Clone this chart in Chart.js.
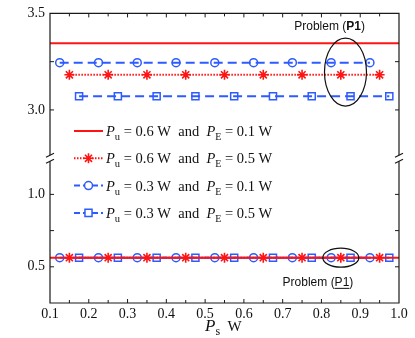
<!DOCTYPE html>
<html>
<head>
<meta charset="utf-8">
<script src="https://cdn.jsdelivr.net/npm/chart.js@4.4.1/dist/chart.umd.min.js"></script>
<style>
  html, body { margin: 0; padding: 0; background: #fff; }
  #wrap { width: 415px; height: 338px; }
</style>
</head>
<body>
<div id="wrap"><canvas id="c" width="415" height="338"></canvas></div>
<script>
// marker positions on Ps axis
const xLine   = [0.1, 1.0];
const xCircle = [0.125, 0.225, 0.325, 0.425, 0.525, 0.625, 0.725, 0.825, 0.925];
const xStar   = [0.15, 0.25, 0.35, 0.45, 0.55, 0.65, 0.75, 0.85, 0.95];
const xSquare = [0.175, 0.275, 0.375, 0.475, 0.575, 0.675, 0.775, 0.875, 0.975];

// upper part: problem (P1)
const lineTop   = [3.345, 3.345];
const starTop   = [3.182, 3.182, 3.182, 3.182, 3.182, 3.182, 3.182, 3.182, 3.182];
const circleTop = [3.245, 3.245, 3.245, 3.245, 3.245, 3.245, 3.245, 3.245, 3.245];
const squareTop = [3.071, 3.071, 3.071, 3.071, 3.071, 3.071, 3.071, 3.071, 3.071];

// lower part: problem (P1 underlined)
const lineBot   = [0.563, 0.563];
const starBot   = [0.563, 0.563, 0.563, 0.563, 0.563, 0.563, 0.563, 0.563, 0.563];
const circleBot = [0.563, 0.563, 0.563, 0.563, 0.563, 0.563, 0.563, 0.563, 0.563];
const squareBot = [0.563, 0.563, 0.563, 0.563, 0.563, 0.563, 0.563, 0.563, 0.563];

// ticks
const xTicks    = [0.1, 0.2, 0.3, 0.4, 0.5, 0.6, 0.7, 0.8, 0.9, 1.0];
const xMinor    = [0.15, 0.25, 0.35, 0.45, 0.55, 0.65, 0.75, 0.85, 0.95];
const yTopTicks = [3.0, 3.5];
const yTopMinor = [3.25];
const yBotTicks = [0.5, 1.0];
const yBotMinor = [0.75];

// legend
const legendPu = ['0.6', '0.6', '0.3', '0.3'];
const legendPe = ['0.1', '0.5', '0.1', '0.5'];

const RED = '#ff1414', BLUE = '#2d5bff', AX = '#1a1a1a';
const SERIF = '"Liberation Serif", "Times New Roman", serif';
const SANS = '"Liberation Sans", Arial, sans-serif';

const styles = [
  { borderColor: RED, borderWidth: 2, pointRadius: 0, order: 0 },
  { borderColor: RED, borderWidth: 2, borderDash: [1.5, 1.5], pointStyle: 'star', pointRadius: 5, pointBorderWidth: 1.6, order: 1 },
  { borderColor: BLUE, borderWidth: 2, borderDash: [9, 5], pointStyle: 'circle', pointRadius: 4, pointBorderWidth: 1.5, order: 2 },
  { borderColor: BLUE, borderWidth: 2, borderDash: [9, 5], pointStyle: 'rect', pointRadius: 5, pointBorderWidth: 1.5, order: 3 }
];
const pts = (xs, ys) => xs.map((x, i) => ({ x, y: ys[i] }));
const mk = (st, data, axis) => ({
  data, yAxisID: axis, showLine: true, fill: false, tension: 0,
  pointBackgroundColor: 'rgba(0,0,0,0)', pointBorderColor: st.borderColor,
  pointHoverRadius: st.pointRadius, ...st
});

const datasets = [
  mk(styles[0], pts(xLine, lineTop), 'yTop'),
  mk(styles[1], pts(xStar, starTop), 'yTop'),
  mk(styles[2], pts(xCircle, circleTop), 'yTop'),
  mk(styles[3], pts(xSquare, squareTop), 'yTop'),
  mk(styles[0], pts(xLine, lineBot), 'yBot'),
  mk(styles[1], pts(xStar, starBot), 'yBot'),
  mk(styles[2], pts(xCircle, circleBot), 'yBot'),
  mk(styles[3], pts(xSquare, squareBot), 'yBot')
];

// draws a run of text pieces (italic / subscript / bold)
function rich(ctx, parts, x, y) {
  ctx.textBaseline = 'alphabetic'; ctx.textAlign = 'left';
  parts.forEach(p => {
    ctx.font = p.f;
    const w = ctx.measureText(p.t).width;
    ctx.fillText(p.t, x, y + (p.dy || 0));
    if (p.u) { ctx.fillRect(x, y + 2, w, 1); }
    x += w;
  });
  return x;
}
function richWidth(ctx, parts) {
  return parts.reduce((a, p) => { ctx.font = p.f; return a + ctx.measureText(p.t).width; }, 0);
}

const decor = {
  id: 'decor',
  afterDatasetsDraw(chart) {
    const { ctx, chartArea: ca, scales } = chart;
    const { x, yTop, yBot } = scales;
    ctx.save();
    ctx.strokeStyle = AX; ctx.fillStyle = AX; ctx.lineWidth = 1.2; ctx.setLineDash([]);

    const brk = yTop.bottom;
    // frame, cut at the break on left and right
    ctx.beginPath();
    ctx.moveTo(ca.left, brk - 3); ctx.lineTo(ca.left, ca.top); ctx.lineTo(ca.right, ca.top); ctx.lineTo(ca.right, brk - 3);
    ctx.moveTo(ca.left, brk + 3); ctx.lineTo(ca.left, ca.bottom); ctx.lineTo(ca.right, ca.bottom); ctx.lineTo(ca.right, brk + 3);
    ctx.stroke();
    // break marks
    [ca.left, ca.right].forEach(ax => {
      ctx.beginPath();
      ctx.moveTo(ax - 4, brk - 1); ctx.lineTo(ax + 4, brk - 5);
      ctx.moveTo(ax - 4, brk + 5); ctx.lineTo(ax + 4, brk + 1);
      ctx.stroke();
    });

    // inside ticks
    ctx.lineWidth = 1;
    ctx.beginPath();
    xTicks.concat(xMinor).forEach(v => {
      const px = x.getPixelForValue(v);
      if (px <= ca.left + 1 || px >= ca.right - 1) return;
      const len = xTicks.includes(v) ? 4 : 3;
      ctx.moveTo(px, ca.bottom); ctx.lineTo(px, ca.bottom - len);
      ctx.moveTo(px, ca.top); ctx.lineTo(px, ca.top + len);
    });
    [[yTop, yTopTicks.concat(yTopMinor)], [yBot, yBotTicks.concat(yBotMinor)]].forEach(([s, vals]) => {
      vals.forEach(v => {
        const py = s.getPixelForValue(v);
        if (py <= ca.top + 1 || py >= ca.bottom - 1) return;
        ctx.moveTo(ca.left, py); ctx.lineTo(ca.left + 4, py);
        ctx.moveTo(ca.right, py); ctx.lineTo(ca.right - 4, py);
      });
    });
    ctx.stroke();

    // legend
    const lx0 = 74, lx1 = 103, ly0 = 131, lstep = 27.3;
    legendPu.forEach((pu, i) => {
      const st = styles[i], ly = ly0 + i * lstep;
      ctx.save();
      ctx.strokeStyle = st.borderColor; ctx.lineWidth = st.borderWidth;
      ctx.setLineDash(i === 1 ? [1.5, 1.5] : i > 1 ? [6, 3] : []);
      ctx.beginPath(); ctx.moveTo(lx0, ly); ctx.lineTo(lx1, ly); ctx.stroke();
      ctx.setLineDash([]);
      if (st.pointStyle) {
        ctx.fillStyle = '#fff'; ctx.lineWidth = st.pointBorderWidth;
        Chart.helpers.drawPoint(ctx, { pointStyle: st.pointStyle, radius: st.pointRadius, rotation: 0, borderWidth: st.pointBorderWidth }, (lx0 + lx1) / 2, ly);
      }
      ctx.restore();
      ctx.fillStyle = '#111';
      rich(ctx, [
        { t: 'P', f: 'italic 14.5px ' + SERIF },
        { t: 'u', f: '10.5px ' + SERIF, dy: 4 },
        { t: ' = ' + pu + ' W  and  ', f: '14.5px ' + SERIF },
        { t: 'P', f: 'italic 14.5px ' + SERIF },
        { t: 'E', f: '10px ' + SERIF, dy: 4 },
        { t: ' = ' + legendPe[i] + ' W', f: '14.5px ' + SERIF }
      ], 106, ly + 5);
    });

    // annotations
    ctx.strokeStyle = '#111'; ctx.lineWidth = 1.2;
    ctx.beginPath();
    ctx.ellipse(x.getPixelForValue(0.862), yTop.getPixelForValue(3.196), 21, 34, 0, 0, Math.PI * 2);
    ctx.stroke();
    ctx.beginPath();
    ctx.ellipse(x.getPixelForValue(0.850), yBot.getPixelForValue(0.563), 18, 9.5, 0, 0, Math.PI * 2);
    ctx.stroke();

    ctx.fillStyle = '#111';
    const topTxt = [
      { t: 'Problem (', f: '12px ' + SANS },
      { t: 'P1', f: 'bold 12px ' + SANS },
      { t: ')', f: '12px ' + SANS }
    ];
    rich(ctx, topTxt, x.getPixelForValue(0.821) - richWidth(ctx, topTxt) / 2, yTop.getPixelForValue(3.433) + 4);
    const botTxt = [
      { t: 'Problem (', f: '12px ' + SANS },
      { t: 'P1', f: '12px ' + SANS, u: true },
      { t: ')', f: '12px ' + SANS }
    ];
    rich(ctx, botTxt, x.getPixelForValue(0.791) - richWidth(ctx, botTxt) / 2, yBot.getPixelForValue(0.396) + 4);

    // x axis title
    rich(ctx, [
      { t: 'P', f: 'italic 17px ' + SERIF },
      { t: 's', f: '12px ' + SERIF, dy: 4 },
      { t: '  W', f: '15px ' + SERIF }
    ], 205, 331);
    ctx.restore();
  }
};

const tickFont = { family: SERIF, size: 14 };
const yScale = (min, max, ticks, weight) => ({
  type: 'linear', position: 'left', stack: 'y', stackWeight: weight,
  min, max,
  afterBuildTicks: s => { s.ticks = ticks.map(v => ({ value: v })); },
  afterFit: s => { s.width = 50; },
  grid: { display: false, drawTicks: false },
  border: { display: false },
  ticks: { font: tickFont, color: '#111', padding: 5, callback: v => v.toFixed(1) }
});

new Chart(document.getElementById('c'), {
  type: 'line',
  data: { datasets },
  options: {
    responsive: false, animation: false, events: [],
    layout: { padding: { top: 10, right: 16, left: 0, bottom: 0 } },
    plugins: { legend: { display: false }, tooltip: { enabled: false } },
    scales: {
      x: {
        type: 'linear', min: 0.1, max: 1.0,
        afterBuildTicks: s => { s.ticks = xTicks.map(v => ({ value: v })); },
        afterFit: s => { s.height = 35; },
        grid: { display: false, drawTicks: false },
        border: { display: false },
        ticks: { font: tickFont, color: '#111', padding: 3, maxRotation: 0, autoSkip: false, callback: v => v.toFixed(1) }
      },
      yBot: yScale(0.25, 1.25, yBotTicks, 144),
      yTop: yScale(2.75, 3.5, yTopTicks, 144)
    }
  },
  plugins: [decor]
});
</script>
</body>
</html>
